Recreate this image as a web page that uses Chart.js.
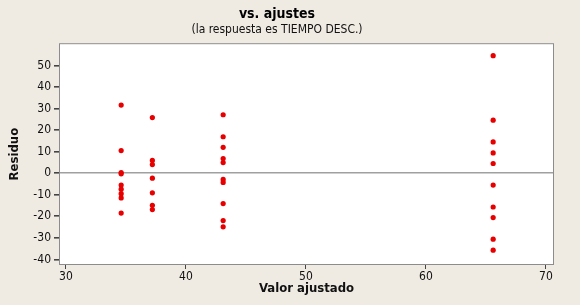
<!DOCTYPE html>
<html>
<head>
<meta charset="utf-8">
<script src="https://cdn.jsdelivr.net/npm/chart.js@4"></script>
<style>
  html, body { margin: 0; padding: 0; background: #efebe2; }
  #wrap { width: 580px; height: 305px; }
</style>
</head>
<body>
<div id="wrap"><canvas id="resid-chart" width="580" height="305"></canvas></div>
<script>
// valores ajustados y residuos
const ajustados = [
  34.6, 34.6, 34.6, 34.6, 34.6, 34.6, 34.6, 34.6, 34.6,
  37.2, 37.2, 37.2, 37.2, 37.2, 37.2, 37.2,
  43.1, 43.1, 43.1, 43.1, 43.1, 43.1, 43.1, 43.1, 43.1, 43.1,
  65.6, 65.6, 65.6, 65.6, 65.6, 65.6, 65.6, 65.6, 65.6, 65.6
];
const residuos = [
  31.6, 10.5, 0.3, -0.3, -5.5, -7.4, -9.5, -11.5, -18.5,
  25.8, 5.9, 4.0, -2.3, -9.1, -14.9, -16.9,
  27.1, 16.9, 12.0, 6.8, 4.9, -2.9, -4.3, -14.1, -22.0, -24.9,
  54.5, 24.6, 14.5, 9.4, 4.5, -5.5, -15.7, -20.6, -30.6, -35.7
];
const xTicks = [30, 40, 50, 60, 70];
const yTicks = [-40, -30, -20, -10, 0, 10, 20, 30, 40, 50];

const fuente = "'DejaVu Sans Condensed', 'DejaVu Sans', sans-serif";
const rojo = 'rgba(232, 0, 0, 1)';
const gris = '#8c8c8c';

// fondo blanco y marco del area de trazado
const marcoPlugin = {
  id: 'marco',
  beforeDraw(chart) {
    const a = chart.chartArea;
    const ctx = chart.ctx;
    ctx.save();
    ctx.fillStyle = '#ffffff';
    ctx.fillRect(a.left, a.top, a.right - a.left, a.bottom - a.top);
    ctx.restore();
  },
  afterDraw(chart) {
    const a = chart.chartArea;
    const ctx = chart.ctx;
    ctx.save();
    ctx.strokeStyle = gris;
    ctx.lineWidth = 1;
    ctx.strokeRect(a.left + 0.5, a.top + 0.5, a.right - a.left - 1, a.bottom - a.top - 1);
    ctx.restore();
  }
};

const ctx = document.getElementById('resid-chart').getContext('2d');
const chart = new Chart(ctx, {
  type: 'scatter',
  data: {
    datasets: [{
      label: 'Residuo',
      data: ajustados.map((x, i) => ({ x: x, y: residuos[i] })),
      backgroundColor: rojo,
      borderWidth: 0,
      pointRadius: 2.6
    }]
  },
  options: {
    responsive: false,
    animation: false,
    layout: { padding: { left: 0, right: 26, top: 0, bottom: 0 } },
    scales: {
      x: {
        type: 'linear',
        min: 29.42,
        max: 70.67,
        afterBuildTicks: (scale) => { scale.ticks = xTicks.map(v => ({ value: v })); },
        afterFit: (scale) => { scale.height = 40; },
        grid: { drawOnChartArea: false, tickLength: 4, tickColor: '#444' },
        border: { display: false },
        ticks: { color: '#111', font: { family: fuente, size: 12 }, padding: 1, maxRotation: 0 },
        title: {
          display: true,
          text: 'Valor ajustado',
          color: '#111',
          font: { family: fuente, size: 13, weight: 'bold' },
          padding: { top: 0, bottom: 9 }
        }
      },
      y: {
        min: -42.6,
        max: 60.3,
        afterBuildTicks: (scale) => { scale.ticks = yTicks.map(v => ({ value: v })); },
        afterFit: (scale) => { scale.width = 59; },
        grid: {
          color: (c) => (c.tick && c.tick.value === 0) ? '#a0a0a0' : 'rgba(0,0,0,0)',
          lineWidth: 1.6,
          tickLength: 5,
          tickColor: '#444'
        },
        border: { display: false },
        ticks: { color: '#111', font: { family: fuente, size: 12 }, padding: 3 },
        title: {
          display: true,
          text: 'Residuo',
          color: '#111',
          font: { family: fuente, size: 13, weight: 'bold' },
          padding: { top: 7, bottom: 0 }
        }
      }
    },
    plugins: {
      legend: { display: false },
      tooltip: { enabled: false },
      title: {
        display: true,
        text: 'vs. ajustes',
        color: '#000',
        font: { family: fuente, size: 14, weight: 'bold' },
        padding: { top: 6, bottom: 0 }
      },
      subtitle: {
        display: true,
        text: '(la respuesta es TIEMPO DESC.)',
        color: '#111',
        font: { family: fuente, size: 12 },
        padding: { top: 0, bottom: 6 }
      }
    }
  },
  plugins: [marcoPlugin]
});
</script>
</body>
</html>
